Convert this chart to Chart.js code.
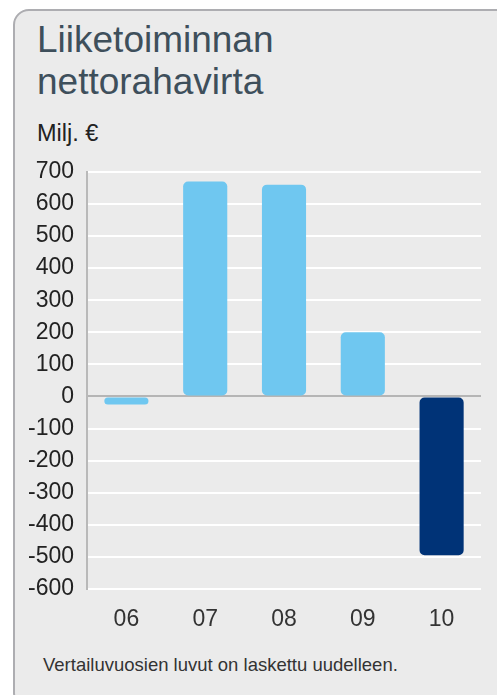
<!DOCTYPE html>
<html>
<head>
<meta charset="utf-8">
<script src="https://cdn.jsdelivr.net/npm/chart.js@4"></script>
<style>
  body { margin: 0; background: #fff; font-family: "Liberation Sans", Arial, sans-serif; overflow: hidden; }
  #box {
    position: absolute; left: 13px; top: 9px; width: 500px; height: 700px;
    background: #ebebeb; border: 2px solid #adadb1; border-radius: 16px; box-sizing: border-box;
  }
  #title { position: absolute; left: 37px; top: 19px; font-size: 37px; line-height: 42px; color: #3e4f5b; }
  #unit { position: absolute; left: 37px; top: 120px; font-size: 23.5px; color: #222; }
  #note { position: absolute; left: 43px; top: 654px; font-size: 18.5px; color: #333; }
  #wrap { position: absolute; left: 0; top: 145px; width: 497px; height: 505px; }
</style>
</head>
<body>
<div id="box"></div>
<div id="title">Liiketoiminnan<br>nettorahavirta</div>
<div id="unit">Milj. €</div>
<div id="wrap"><canvas id="c"></canvas></div>
<div id="note">Vertailuvuosien luvut on laskettu uudelleen.</div>
<script>
// vuodet ja arvot (milj. €)
const years = ["06", "07", "08", "09", "10"];
const values = [-25, 670, 660, 200, -495];
const barColors = ["#6fc7f0", "#6fc7f0", "#6fc7f0", "#6fc7f0", "#003377"];

const yMin = -600, yMax = 700, yStep = 100;

const ctx = document.getElementById("c").getContext("2d");
new Chart(ctx, {
  type: "bar",
  data: {
    labels: years,
    datasets: [{
      data: values,
      backgroundColor: barColors,
      borderRadius: 5,
      borderSkipped: false,
      barPercentage: 0.56,
      categoryPercentage: 1
    }]
  },
  options: {
    responsive: true,
    maintainAspectRatio: false,
    animation: false,
    layout: { padding: { top: 17, right: 16, left: 0, bottom: 0 } },
    plugins: { legend: { display: false }, tooltip: { enabled: false } },
    scales: {
      x: {
        grid: { display: false, drawTicks: false },
        border: { display: false },
        ticks: { color: "#333", font: { family: "Liberation Sans", size: 23 }, padding: 17 },
        afterFit: s => { s.height = 61; }
      },
      y: {
        min: yMin, max: yMax,
        ticks: { stepSize: yStep, color: "#222", font: { family: "Liberation Sans", size: 23 }, padding: 13 },
        grid: {
          drawTicks: false,
          lineWidth: 2,
          color: c => (c.tick && c.tick.value === 0) ? "#b5b5b5" : "#ffffff",
          z: -1
        },
        border: { display: true, color: "#b9b9b9", width: 2 },
        afterFit: s => { s.width = 87; }
      }
    }
  }
});
</script>
</body>
</html>
